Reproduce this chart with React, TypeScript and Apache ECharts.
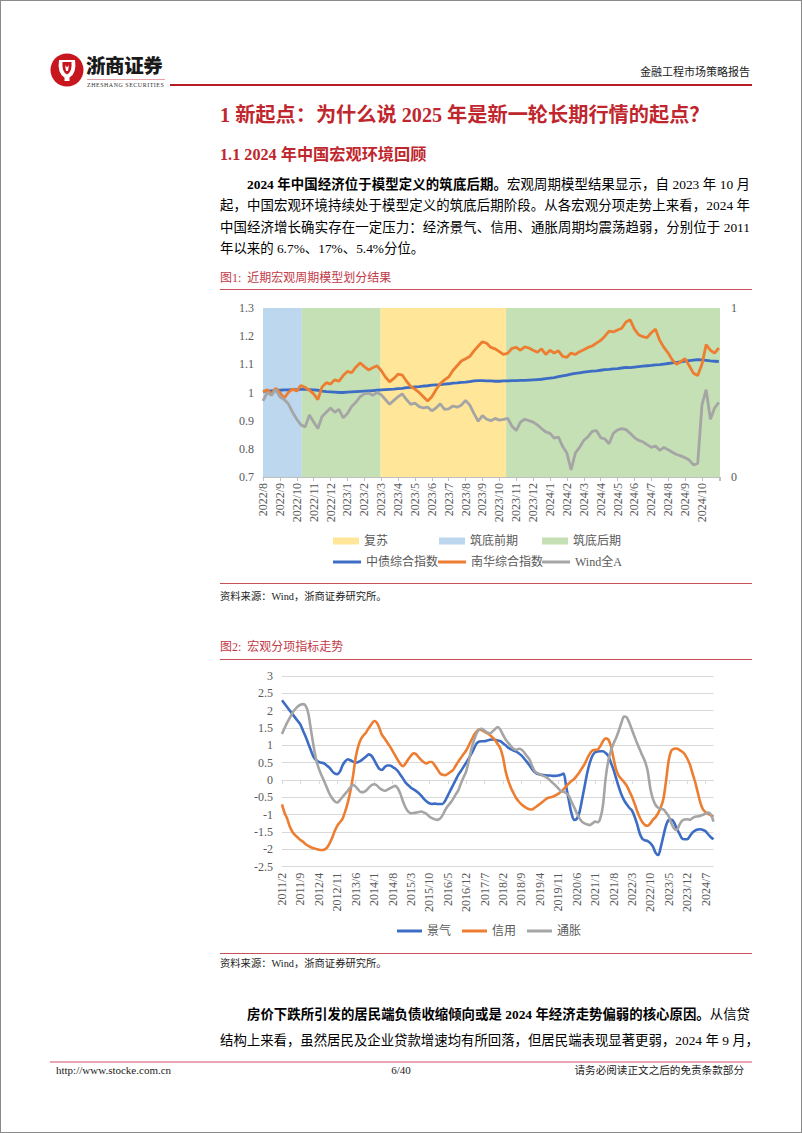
import React, { useEffect, useRef } from 'react';
import * as echarts from 'echarts';

// ---------- Figure 1 data (quarter-month samples starting 2022/8) ----------
const MONTHS_1 = ['2022/8','2022/9','2022/10','2022/11','2022/12','2023/1','2023/2','2023/3','2023/4','2023/5','2023/6','2023/7','2023/8','2023/9','2023/10','2023/11','2023/12','2024/1','2024/2','2024/3','2024/4','2024/5','2024/6','2024/7','2024/8','2024/9','2024/10'];
const STEP_1 = 0.25; // months between samples
const X_MAX_1 = 27.07; // last data date, in months after 2022/8

const BOND = [
  1.004, 1.005, 1.006, 1.007, 1.008, 1.009, 1.009, 1.010, 1.010, 1.011, 1.011, 1.010,
  1.009, 1.008, 1.005, 1.003, 1.002, 1.001, 1.000, 1.000, 1.001, 1.002, 1.003, 1.004,
  1.005, 1.006, 1.007, 1.008, 1.009, 1.010, 1.011, 1.012, 1.014, 1.015, 1.017, 1.018,
  1.020, 1.021, 1.023, 1.024, 1.026, 1.027, 1.028, 1.030, 1.031, 1.033, 1.034, 1.036,
  1.037, 1.039, 1.041, 1.042, 1.042, 1.041, 1.041, 1.040, 1.040, 1.041, 1.041, 1.042,
  1.042, 1.043, 1.043, 1.044, 1.045, 1.046, 1.047, 1.049, 1.051, 1.053, 1.056, 1.059,
  1.062, 1.065, 1.068, 1.070, 1.072, 1.074, 1.076, 1.077, 1.079, 1.081, 1.082, 1.084,
  1.085, 1.087, 1.089, 1.088, 1.090, 1.092, 1.094, 1.095, 1.096, 1.098, 1.099, 1.101,
  1.103, 1.105, 1.107, 1.109, 1.111, 1.113, 1.115, 1.117, 1.116, 1.114, 1.112, 1.111, 1.110,
];
const NANHUA = [
  1.003, 1.010, 0.995, 1.015, 1.000, 0.980, 1.000, 1.012, 1.005, 1.025, 1.018, 1.008,
  0.995, 0.975, 1.020, 1.035, 1.030, 1.045, 1.040, 1.060, 1.075, 1.070, 1.090, 1.105,
  1.092, 1.080, 1.088, 1.095, 1.078, 1.055, 1.038, 1.050, 1.065, 1.062, 1.040, 1.022,
  1.012, 1.000, 0.985, 0.970, 0.985, 1.010, 1.032, 1.045, 1.055, 1.078, 1.095, 1.112,
  1.120, 1.128, 1.148, 1.165, 1.180, 1.175, 1.160, 1.155, 1.145, 1.135, 1.140, 1.157,
  1.160, 1.150, 1.162, 1.158, 1.150, 1.143, 1.155, 1.135, 1.150, 1.140, 1.148, 1.128,
  1.125, 1.140, 1.135, 1.145, 1.152, 1.160, 1.165, 1.175, 1.185, 1.200, 1.218, 1.215,
  1.222, 1.228, 1.250, 1.258, 1.225, 1.205, 1.198, 1.195, 1.212, 1.225, 1.185, 1.160,
  1.140, 1.115, 1.100, 1.110, 1.120, 1.095, 1.068, 1.060, 1.100, 1.170, 1.150, 1.140, 1.158,
];
const WINDA = [
  0.970, 1.000, 0.990, 1.010, 0.985, 0.975, 0.960, 0.930, 0.905, 0.885, 0.878, 0.920,
  0.895, 0.872, 0.915, 0.930, 0.945, 0.930, 0.940, 0.910, 0.925, 0.950, 0.965, 0.985,
  0.995, 0.998, 0.990, 1.000, 0.992, 0.975, 0.958, 0.972, 0.985, 0.995, 0.975, 0.958,
  0.962, 0.950, 0.945, 0.948, 0.935, 0.945, 0.960, 0.940, 0.942, 0.952, 0.948, 0.955,
  0.972, 0.955, 0.925, 0.898, 0.918, 0.905, 0.900, 0.908, 0.902, 0.905, 0.908, 0.880,
  0.865, 0.895, 0.905, 0.900, 0.895, 0.885, 0.872, 0.860, 0.855, 0.838, 0.842, 0.808,
  0.785, 0.725, 0.785, 0.805, 0.830, 0.843, 0.862, 0.865, 0.840, 0.835, 0.818, 0.855,
  0.867, 0.872, 0.868, 0.855, 0.840, 0.830, 0.825, 0.815, 0.805, 0.810, 0.795, 0.805,
  0.797, 0.788, 0.780, 0.775, 0.768, 0.760, 0.743, 0.748, 0.955, 1.010, 0.905, 0.945, 0.965,
];
// macro-cycle phases: [start, end] in months after 2022/8
const PHASES = [
  { name: '复苏', color: '#FFE699', ranges: [[6.95, 14.4]] },
  { name: '筑底前期', color: '#BDD7EE', ranges: [[0, 2.3]] },
  { name: '筑底后期', color: '#C5E0B4', ranges: [[2.3, 6.95], [14.4, 27.07]] },
];

// ---------- Figure 2 data (monthly, 2011/2 – 2024/10) ----------
const START_YEAR_2 = 2011;
const START_MONTH_2 = 2;
const PROSPERITY = [
  2.30, 2.20, 2.10, 2.00, 1.90, 1.80, 1.70, 1.60, 1.42, 1.25,
  1.05, 0.85, 0.67, 0.57, 0.52, 0.50, 0.48, 0.42, 0.36, 0.26,
  0.19, 0.17, 0.24, 0.42, 0.54, 0.60, 0.57, 0.53, 0.50, 0.52,
  0.56, 0.62, 0.68, 0.74, 0.70, 0.58, 0.44, 0.32, 0.29, 0.37,
  0.42, 0.42, 0.38, 0.33, 0.26, 0.15, 0.04, -0.08, -0.15, -0.22,
  -0.27, -0.32, -0.38, -0.46, -0.55, -0.62, -0.67, -0.69, -0.68, -0.69,
  -0.69, -0.69, -0.60, -0.45, -0.30, -0.15, 0.00, 0.15, 0.26, 0.38,
  0.50, 0.62, 0.76, 0.91, 1.06, 1.11, 1.12, 1.12, 1.14, 1.16,
  1.17, 1.16, 1.14, 1.12, 1.06, 1.00, 0.93, 0.89, 0.85, 0.82,
  0.77, 0.71, 0.62, 0.53, 0.43, 0.32, 0.23, 0.18, 0.16, 0.15,
  0.14, 0.13, 0.13, 0.12, 0.12, 0.13, 0.15, 0.19, -0.18, -0.58,
  -0.95, -1.15, -1.12, -0.95, -0.58, -0.19, 0.20, 0.50, 0.70, 0.80,
  0.82, 0.83, 0.83, 0.78, 0.70, 0.50, 0.30, 0.05, -0.20, -0.42,
  -0.58, -0.70, -0.80, -0.88, -1.05, -1.28, -1.55, -1.70, -1.74, -1.76,
  -1.82, -1.92, -2.10, -2.16, -1.92, -1.60, -1.30, -1.15, -1.14, -1.22,
  -1.40, -1.54, -1.68, -1.71, -1.71, -1.62, -1.52, -1.46, -1.43, -1.42,
  -1.44, -1.48, -1.57, -1.65, -1.71,
];
const CREDIT = [
  -0.70, -0.95, -1.12, -1.35, -1.50, -1.59, -1.66, -1.73, -1.78, -1.85,
  -1.90, -1.94, -1.97, -1.99, -2.01, -2.02, -2.01, -1.96, -1.84, -1.68,
  -1.48, -1.32, -1.22, -1.12, -0.91, -0.65, -0.32, 0.12, 0.65, 0.98,
  1.18, 1.29, 1.38, 1.50, 1.61, 1.70, 1.66, 1.50, 1.30, 1.20,
  1.08, 0.97, 0.84, 0.71, 0.58, 0.46, 0.40, 0.48, 0.60, 0.70,
  0.77, 0.74, 0.65, 0.57, 0.51, 0.48, 0.52, 0.52, 0.43, 0.32,
  0.20, 0.15, 0.14, 0.18, 0.23, 0.29, 0.41, 0.53, 0.64, 0.75,
  0.85, 1.00, 1.15, 1.30, 1.40, 1.46, 1.43, 1.39, 1.35, 1.30,
  1.23, 1.15, 1.03, 0.91, 0.65, 0.25, -0.02, -0.22, -0.38, -0.52,
  -0.62, -0.70, -0.76, -0.81, -0.84, -0.85, -0.80, -0.75, -0.69, -0.63,
  -0.57, -0.52, -0.50, -0.48, -0.44, -0.40, -0.34, -0.27, -0.18, -0.10,
  -0.03, 0.03, 0.12, 0.22, 0.34, 0.46, 0.62, 0.76, 0.85, 0.87,
  0.88, 0.98, 1.12, 1.20, 1.17, 0.98, 0.62, 0.30, 0.12, 0.03,
  -0.06, -0.16, -0.32, -0.48, -0.68, -0.90, -1.08, -1.22, -1.30, -1.32,
  -1.25, -1.14, -1.07, -0.95, -0.78, -0.53, 0.00, 0.58, 0.85, 0.90,
  0.91, 0.87, 0.82, 0.75, 0.62, 0.45, 0.20, -0.05, -0.35, -0.65,
  -0.85, -0.93, -0.98, -1.02, -1.06,
];
const INFLATION = [
  1.33, 1.50, 1.66, 1.80, 1.94, 2.04, 2.12, 2.17, 2.19, 2.14,
  1.92, 1.45, 0.98, 0.58, 0.33, 0.14, -0.03, -0.21, -0.39, -0.52,
  -0.61, -0.65, -0.58, -0.49, -0.40, -0.31, -0.21, -0.14, -0.19, -0.28,
  -0.35, -0.35, -0.30, -0.22, -0.15, -0.12, -0.15, -0.23, -0.28, -0.31,
  -0.28, -0.24, -0.20, -0.17, -0.24, -0.40, -0.62, -0.80, -0.91, -0.96,
  -0.95, -0.94, -0.92, -0.91, -0.94, -0.98, -1.05, -1.10, -1.13, -1.15,
  -1.12, -1.02, -0.87, -0.75, -0.66, -0.55, -0.42, -0.30, -0.10, 0.08,
  0.25, 0.55, 0.90, 1.15, 1.35, 1.46, 1.48, 1.42, 1.37, 1.35,
  1.40, 1.47, 1.53, 1.45, 1.30, 1.17, 1.07, 0.98, 0.90, 0.87,
  0.90, 0.88, 0.80, 0.70, 0.60, 0.42, 0.26, 0.20, 0.17, 0.13,
  0.10, 0.05, -0.02, -0.09, -0.16, -0.24, -0.32, -0.34, -0.38, -0.45,
  -0.62, -0.78, -0.95, -1.10, -1.20, -1.25, -1.28, -1.30, -1.25, -1.20,
  -1.22, -1.10, -0.72, 0.05, 0.55, 0.85, 1.05, 1.22, 1.42, 1.65,
  1.83, 1.81, 1.65, 1.45, 1.25, 1.05, 0.88, 0.70, 0.53, 0.25,
  -0.25, -0.55, -0.72, -0.80, -0.83, -0.85, -0.94, -1.05, -1.25, -1.40,
  -1.44, -1.30, -1.18, -1.14, -1.13, -1.15, -1.10, -1.06, -1.05, -1.03,
  -1.00, -0.97, -0.94, -1.00, -1.20,
];
const MONTHS_2 = PROSPERITY.map((_, i) => {
  const t = START_YEAR_2 * 12 + (START_MONTH_2 - 1) + i;
  return `${Math.floor(t / 12)}/${(t % 12) + 1}`;
});

const SERIF = '"Liberation Serif", "Times New Roman", "Noto Sans CJK SC", serif';
const BLUE = '#3d6cc4';
const ORANGE = '#ED7D31';
const GRAY = '#A5A5A5';
const AXIS_TEXT = '#595959';
const RED = '#c0262d';
const CAP_RED = '#c23a47';

const fmt1 = (v: number) => String(Math.round(v * 10) / 10);

function buildOption(): any {
  const legendText = { color: AXIS_TEXT, fontSize: 12, fontFamily: SERIF };
  const lg = (name: string, left: number, top: number, w: number, h: number) => ({
    data: [name], left, top, padding: 0, itemWidth: w, itemHeight: h, icon: 'rect',
    selectedMode: false, textStyle: legendText,
  });
  return {
    animation: false,
    textStyle: { fontFamily: SERIF },
    grid: [
      { left: 263, top: 308, width: 457, height: 169 },
      { left: 282, top: 676, width: 431.5, height: 190.7 },
    ],
    xAxis: [
      {
        gridIndex: 0, type: 'value', min: 0, max: X_MAX_1, interval: 1,
        axisLine: { show: true, lineStyle: { color: '#bfbfbf' } },
        axisTick: { show: true, length: 4, lineStyle: { color: '#bfbfbf' } },
        splitLine: { show: false },
        axisLabel: {
          rotate: 90, margin: 6, color: AXIS_TEXT, fontSize: 12, fontFamily: SERIF,
          formatter: (v: number) => MONTHS_1[Math.round(v)] ?? '',
        },
      },
      {
        gridIndex: 1, type: 'category', boundaryGap: false, data: MONTHS_2, position: 'bottom',
        axisLine: { show: false, onZero: false }, axisTick: { show: false },
        axisLabel: { interval: 6, rotate: 90, margin: 6, color: AXIS_TEXT, fontSize: 12, fontFamily: SERIF },
      },
      {
        gridIndex: 1, type: 'category', boundaryGap: false, data: MONTHS_2, position: 'bottom',
        axisLine: { show: true, onZero: true, lineStyle: { color: '#d9d9d9' } },
        axisTick: { show: true, interval: 6, length: 4, lineStyle: { color: '#d9d9d9' } },
        axisLabel: { show: false },
      },
    ],
    yAxis: [
      {
        gridIndex: 0, type: 'value', min: 0.7, max: 1.3, interval: 0.1,
        axisLine: { show: false }, axisTick: { show: false }, splitLine: { show: false },
        axisLabel: { margin: 9, color: AXIS_TEXT, fontSize: 12, fontFamily: SERIF, formatter: fmt1 },
      },
      {
        gridIndex: 0, type: 'value', min: 0, max: 1, interval: 1, position: 'right',
        axisLine: { show: false }, axisTick: { show: false }, splitLine: { show: false },
        axisLabel: { margin: 11, color: AXIS_TEXT, fontSize: 12, fontFamily: SERIF },
      },
      {
        gridIndex: 1, type: 'value', min: -2.5, max: 3, interval: 0.5,
        axisLine: { show: false }, axisTick: { show: false },
        splitLine: { show: true, lineStyle: { color: '#d9d9d9', width: 1 } },
        axisLabel: { margin: 9, color: AXIS_TEXT, fontSize: 12, fontFamily: SERIF, formatter: fmt1 },
      },
    ],
    legend: [
      lg('复苏', 333, 535, 26, 7),
      lg('筑底前期', 439, 535, 26, 7),
      lg('筑底后期', 542, 535, 26, 7),
      lg('中债综合指数', 333, 556, 28, 3),
      lg('南华综合指数', 438, 556, 28, 3),
      lg('Wind全A', 542, 556, 28, 3),
      {
        data: ['景气', '信用', '通胀'], left: 397, top: 925, padding: 0, itemGap: 11,
        itemWidth: 25, itemHeight: 3, icon: 'rect', selectedMode: false, textStyle: legendText,
      },
    ],
    series: [
      ...PHASES.map((p) => ({
        type: 'custom', name: p.name, xAxisIndex: 0, yAxisIndex: 1, silent: true, z: 1,
        itemStyle: { color: p.color },
        data: p.ranges.map((r) => [r[0], r[1], 1]),
        encode: { x: [0, 1], y: 2 },
        renderItem: (_params: any, api: any) => {
          const a = api.coord([api.value(0), 1]);
          const b = api.coord([api.value(1), 0]);
          return {
            type: 'rect',
            shape: { x: a[0], y: a[1], width: b[0] - a[0], height: b[1] - a[1] },
            style: { fill: p.color },
          };
        },
      })),
      {
        type: 'line', name: '中债综合指数', xAxisIndex: 0, yAxisIndex: 0, z: 3,
        data: BOND.map((v, k) => [k * STEP_1, v]), symbol: 'none', showSymbol: false,
        lineStyle: { width: 2.8, color: BLUE }, itemStyle: { color: BLUE },
      },
      {
        type: 'line', name: '南华综合指数', xAxisIndex: 0, yAxisIndex: 0, z: 3,
        data: NANHUA.map((v, k) => [k * STEP_1, v]), symbol: 'none', showSymbol: false,
        lineStyle: { width: 2.8, color: ORANGE }, itemStyle: { color: ORANGE },
      },
      {
        type: 'line', name: 'Wind全A', xAxisIndex: 0, yAxisIndex: 0, z: 3,
        data: WINDA.map((v, k) => [k * STEP_1, v]), symbol: 'none', showSymbol: false,
        lineStyle: { width: 2.8, color: GRAY }, itemStyle: { color: GRAY },
      },
      {
        type: 'line', name: '景气', xAxisIndex: 1, yAxisIndex: 2, z: 3, smooth: 0.3,
        data: PROSPERITY, symbol: 'none', showSymbol: false,
        lineStyle: { width: 2.6, color: BLUE }, itemStyle: { color: BLUE },
      },
      {
        type: 'line', name: '信用', xAxisIndex: 1, yAxisIndex: 2, z: 3, smooth: 0.3,
        data: CREDIT, symbol: 'none', showSymbol: false,
        lineStyle: { width: 2.6, color: ORANGE }, itemStyle: { color: ORANGE },
      },
      {
        type: 'line', name: '通胀', xAxisIndex: 1, yAxisIndex: 2, z: 3, smooth: 0.3,
        data: INFLATION, symbol: 'none', showSymbol: false,
        lineStyle: { width: 2.6, color: GRAY }, itemStyle: { color: GRAY },
      },
    ],
  };
}

type TProps = {
  x: number; y: number; size: number; children: any; w?: number; justify?: boolean; lh?: number;
  color?: string; bold?: boolean; align?: 'left' | 'right' | 'center'; family?: string; extra?: any;
};
const T = ({ x, y, size, children, w, justify, lh, color, bold, align, family, extra }: TProps) => {
  const h = size * (lh ?? 1.4);
  return (
    <div
      style={{
        position: 'absolute', left: x, top: y - h / 2, height: h, lineHeight: `${h}px`,
        fontSize: size, width: w, whiteSpace: 'pre', color: color || '#000',
        fontWeight: bold ? 700 : 400, fontFamily: family || SERIF,
        textAlign: justify ? 'justify' : align || 'left',
        textAlignLast: justify ? 'justify' : undefined,
        ...(extra || {}),
      } as any}
    >
      {children}
    </div>
  );
};

const HLine = ({ x1, x2, y, h, color }: { x1: number; x2: number; y: number; h: number; color: string }) => (
  <div style={{ position: 'absolute', left: x1, top: y - h / 2, width: x2 - x1, height: h, background: color }} />
);

export default function App() {
  const ref = useRef<HTMLDivElement>(null);
  useEffect(() => {
    const chart = echarts.init(ref.current as HTMLDivElement, null, { renderer: 'svg' });
    chart.setOption(buildOption());
    return () => chart.dispose();
  }, []);

  const BODY = 13.4;
  return (
    <div style={{ position: 'absolute', left: 0, top: 0, width: 802, height: 1133, background: '#fff', overflow: 'hidden', fontFamily: SERIF }}>
      <div ref={ref} style={{ position: 'absolute', left: 0, top: 0, width: 802, height: 1133 }} />

      {/* header */}
      <svg style={{ position: 'absolute', left: 50, top: 53 }} width={34} height={34} viewBox="-17 -17 34 34">
        <circle cx={0} cy={0} r={16.5} fill="#c8161e" />
        <path d="M -8 -10 Q -10 3 -2.5 7.5 L -2.5 11 L 2.5 11 L 2.5 7.5 Q 10 3 8 -10 Z" fill="#fff" />
        <path d="M -4.5 -8 Q -5.5 1.5 0 4.5 Q 5.5 1.5 4.5 -8 Z" fill="#c8161e" />
        <path d="M -2 -5 Q 0 -1 2 -5 L 1 1 L -1 1 Z" fill="#fff" />
      </svg>
      <T x={86} y={65} size={19.5} lh={1.0} bold family='"Noto Sans CJK SC", sans-serif' color="#1a1a1a" extra={{ letterSpacing: '-0.4px', fontWeight: 900 }}>浙商证券</T>
      <HLine x1={87} x2={165} y={79} h={0.8} color="#e6a0a6" />
      <T x={87} y={85} size={6} lh={1.0} color="#333" extra={{ letterSpacing: '0.5px' }}>ZHESHANG SECURITIES</T>
      <HLine x1={170} x2={752} y={84.5} h={2} color="#b51c24" />
      <T x={540} y={73} size={11} lh={1.2} w={210} align="right" color="#222">金融工程市场策略报告</T>

      {/* headings */}
      <T x={220} y={115} size={20.2} bold color={RED}>1 新起点：为什么说 2025 年是新一轮长期行情的起点？</T>
      <T x={220} y={155} size={16.2} bold color={RED}>1.1 2024 年中国宏观环境回顾</T>

      {/* paragraph 1 */}
      <T x={220} y={185} size={BODY} w={530} justify extra={{ paddingLeft: 27, boxSizing: 'border-box' }}>
        <b>2024 年中国经济位于模型定义的筑底后期。</b>宏观周期模型结果显示，自 2023 年 10 月
      </T>
      <T x={220} y={206.5} size={BODY} w={530} justify>起，中国宏观环境持续处于模型定义的筑底后期阶段。从各宏观分项走势上来看，2024 年</T>
      <T x={220} y={228} size={BODY} w={530} justify>中国经济增长确实存在一定压力：经济景气、信用、通胀周期均震荡趋弱，分别位于 2011</T>
      <T x={220} y={249.5} size={BODY}>年以来的 6.7%、17%、5.4%分位。</T>

      {/* figure 1 captions */}
      <T x={220} y={278} size={12} color={CAP_RED}>{'图1:\u00a0\u00a0近期宏观周期模型划分结果'}</T>
      <HLine x1={220} x2={752} y={289} h={1} color="#c9505a" />
      <HLine x1={220} x2={752} y={583} h={1} color="#c9505a" />
      <T x={220} y={597} size={10.3} color="#222">资料来源：Wind，浙商证券研究所。</T>

      {/* figure 2 captions */}
      <T x={220} y={647} size={12} color={CAP_RED}>{'图2:\u00a0\u00a0宏观分项指标走势'}</T>
      <HLine x1={220} x2={752} y={659} h={1} color="#c9505a" />
      <HLine x1={220} x2={752} y={953} h={1} color="#c9505a" />
      <T x={220} y={964} size={10.3} color="#222">资料来源：Wind，浙商证券研究所。</T>

      {/* paragraph 2 */}
      <T x={220} y={1015} size={BODY} w={530} justify extra={{ paddingLeft: 27, boxSizing: 'border-box' }}>
        <b>房价下跌所引发的居民端负债收缩倾向或是 2024 年经济走势偏弱的核心原因。</b>从信贷
      </T>
      <T x={220} y={1041} size={BODY} w={530} justify>结构上来看，虽然居民及企业贷款增速均有所回落，但居民端表现显著更弱，2024 年 9 月，</T>

      {/* footer */}
      <HLine x1={50} x2={752} y={1062} h={2} color="#eaa6b4" />
      <T x={56} y={1071} size={11} color="#222">http://www.stocke.com.cn</T>
      <T x={351} y={1071} size={11} w={100} align="center" color="#222">6/40</T>
      <T x={544} y={1071} size={10.6} w={200} align="right" color="#222">请务必阅读正文之后的免责条款部分</T>

      {/* page frame */}
      <div style={{ position: 'absolute', left: 0, top: 0, width: 802, height: 1133, border: '1px solid #8a8a8a', boxSizing: 'border-box', pointerEvents: 'none' }} />
    </div>
  );
}
